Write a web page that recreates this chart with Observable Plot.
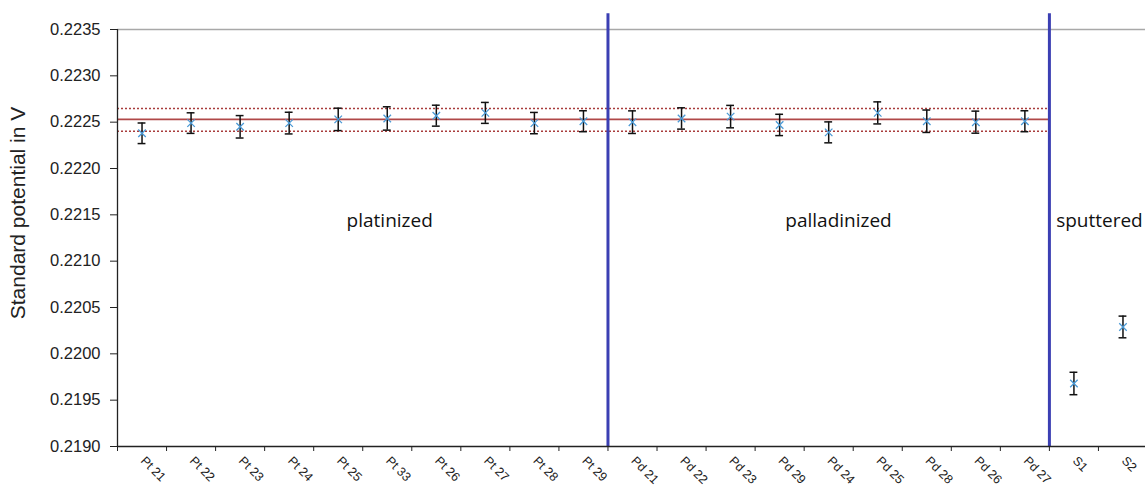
<!DOCTYPE html>
<html><head><meta charset="utf-8">
<script src="https://cdn.jsdelivr.net/npm/d3@7"></script>
<script src="https://cdn.jsdelivr.net/npm/@observablehq/plot@0.6"></script>
<style>body{margin:0;background:#fff} svg{display:block;overflow:visible}</style>
</head><body><div id="chart"></div>
<script>
const categories = ["Pt 21","Pt 22","Pt 23","Pt 24","Pt 25","Pt 33","Pt 26","Pt 27","Pt 28","Pt 29",
  "Pd 21","Pd 22","Pd 23","Pd 29","Pd 24","Pd 25","Pd 28","Pd 26","Pd 27","S1","S2"];
const potentials = [0.22238,0.22249,0.22245,0.22249,0.22253,0.22254,0.22257,0.22260,0.22249,0.22251,
  0.22250,0.22254,0.22256,0.22247,0.22239,0.22260,0.22251,0.22250,0.22251,0.21968,0.22029];
const errors = [0.000111,0.000111,0.000121,0.000117,0.000121,0.000126,0.000113,0.000113,0.000115,0.000113,
  0.000122,0.000115,0.000121,0.000115,0.000113,0.000119,0.000121,0.000119,0.000113,0.000121,0.000117];
const groups = ["platinized","palladinized","sputtered"];
const groupSizes = [10, 9, 2];
const meanPotential = 0.22253;
const upperLimit = 0.222647;
const lowerLimit = 0.222402;
const yTicks = [0.2190,0.2195,0.2200,0.2205,0.2210,0.2215,0.2220,0.2225,0.2230,0.2235];
const yTitle = "Standard potential in V";

const n = categories.length;
const data = categories.map((c, i) => ({name: c, x: i + 0.5, v: potentials[i], lo: potentials[i] - errors[i], hi: potentials[i] + errors[i]}));
const bounds = d3.cumsum(groupSizes);           // [10,19,21]
const dividers = Array.from(bounds).slice(0, -1); // [10,19]
const meanEnd = bounds[1];
const yMin = yTicks[0], yMax = yTicks[yTicks.length - 1];
const groupLabelX = [5.55, 14.7, 20.02];
const cap = 0.08;

const chart = Plot.plot({
  width: 1145, height: 486,
  marginLeft: 117, marginRight: 0, marginTop: 29, marginBottom: 40,
  x: {type: "linear", domain: [0, n], range: [117, 1147], axis: null},
  y: {domain: [yMin, yMax], range: [446, 29], axis: null},
  style: {fontFamily: "'Liberation Sans', Arial, sans-serif", background: "white", overflow: "visible"},
  marks: [
    Plot.ruleY([yMax], {x1: 0, x2: n, stroke: "#a8a8a8", strokeWidth: 1.3}),
    Plot.ruleY([meanPotential], {x1: 0, x2: meanEnd, stroke: "#b04848", strokeWidth: 1.6}),
    Plot.ruleY([upperLimit, lowerLimit], {x1: 0, x2: meanEnd, stroke: "#a83c3c", strokeWidth: 1.6, strokeDasharray: "2,2"}),
    Plot.ruleX(dividers, {y1: yMin, y2: 0.22367, stroke: "#3b3fb3", strokeWidth: 3}),
    Plot.axisY({ticks: yTicks, tickFormat: d3.format(".4f"), tickSize: 7, tickPadding: 10, fontSize: 16.5, label: null, anchor: "left", color: "#222"}),
    Plot.axisX({ticks: d3.range(0, n + 1), tickFormat: () => "", tickSize: 5, label: null, anchor: "bottom", color: "#222"}),
    Plot.ruleX([0], {y1: yMin, y2: yMax, stroke: "#222", strokeWidth: 1.3}),
    Plot.ruleY([yMin], {x1: 0, x2: n, stroke: "#222", strokeWidth: 1.3}),
    Plot.text(data, {x: "x", y: () => yMin, text: "name", rotate: 45, textAnchor: "start", lineAnchor: "bottom", dx: -2, dy: 15, fontSize: 12.5, fill: "#222"}),
    Plot.ruleX(data, {x: "x", y1: "lo", y2: "hi", stroke: "#111", strokeWidth: 1.5}),
    Plot.ruleY(data, {y: "hi", x1: d => d.x - cap, x2: d => d.x + cap, stroke: "#111", strokeWidth: 1.5}),
    Plot.ruleY(data, {y: "lo", x1: d => d.x - cap, x2: d => d.x + cap, stroke: "#111", strokeWidth: 1.5}),
    Plot.dot(data, {x: "x", y: "v", symbol: "times", r: 3.5, stroke: "#4b9ad6", strokeWidth: 1.3}),
    Plot.text(groups, {x: (d, i) => groupLabelX[i], y: () => 0.22137, text: d => d, fontFamily: "'Open Sans', sans-serif", fontSize: 19, lineAnchor: "bottom", fill: "#111"}),
    Plot.text([yTitle], {frameAnchor: "left", textAnchor: "middle", dx: -99, dy: -25, rotate: -90, fontSize: 21, fill: "#222"})
  ]
});
document.getElementById("chart").append(chart);
</script>
</body></html>
